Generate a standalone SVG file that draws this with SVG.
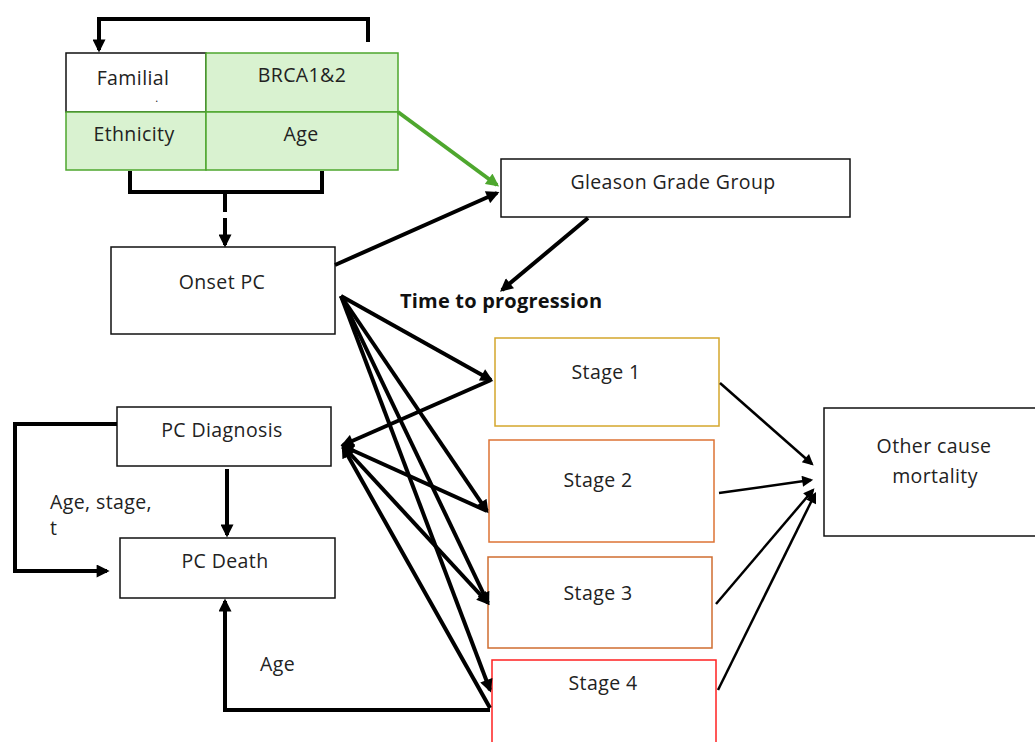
<svg xmlns="http://www.w3.org/2000/svg" width="1035" height="742" viewBox="0 0 1035 742">
<style>
text{font-family:"Open Sans","Liberation Sans",sans-serif;font-size:19.5px;letter-spacing:0.4px;fill:#222;}
.lbl{text-anchor:middle;}
.bold{font-weight:bold;font-size:20px;letter-spacing:0.2px;fill:#111;}
.box{fill:#fff;stroke:#111;stroke-width:1.5;}
.cell{fill:#d9f2d0;stroke:#4ea72e;stroke-width:1.5;}
.thick{fill:none;stroke:#000;stroke-width:4;}
.thin{fill:none;stroke:#000;stroke-width:2.5;}
.green{fill:none;stroke:#4ea72e;stroke-width:4;}
</style>
<defs>
<marker id="ah" viewBox="0 0 10 10" refX="8" refY="5" markerWidth="14" markerHeight="13" markerUnits="userSpaceOnUse" orient="auto-start-reverse">
<path d="M0,0 L10,5 L0,10 z" fill="#000"/>
</marker>
<marker id="ahs" viewBox="0 0 10 10" refX="8" refY="5" markerWidth="13" markerHeight="11" markerUnits="userSpaceOnUse" orient="auto">
<path d="M0,0 L10,5 L0,10 z" fill="#000"/>
</marker>
<marker id="ahg" viewBox="0 0 10 10" refX="8" refY="5" markerWidth="14" markerHeight="13" markerUnits="userSpaceOnUse" orient="auto">
<path d="M0,0 L10,5 L0,10 z" fill="#4ea72e"/>
</marker>
</defs>

<g id="risk-table">
<rect x="66" y="53" width="140" height="59" fill="#fff" stroke="#111" stroke-width="1.5"/>
<rect class="cell" x="206" y="53" width="192" height="59"/>
<rect class="cell" x="66" y="112" width="140" height="58"/>
<rect class="cell" x="206" y="112" width="192" height="58"/>
<text class="lbl" x="133" y="85">Familial</text>
<text class="lbl" x="157" y="102" style="font-size:11px">.</text>
<text class="lbl" x="302" y="82">BRCA1&amp;2</text>
<text class="lbl" x="134" y="141">Ethnicity</text>
<text class="lbl" x="301" y="141">Age</text>
</g>

<g id="gleason">
<rect class="box" x="501" y="159" width="349" height="58"/>
<text class="lbl" x="673" y="189">Gleason Grade Group</text>
</g>

<g id="onset">
<rect class="box" x="111" y="247" width="224" height="87"/>
<text class="lbl" x="222" y="289">Onset PC</text>
</g>

<g id="time-label">
<text class="bold" x="400" y="308">Time to progression</text>
</g>

<g id="stage1">
<rect x="495" y="338" width="224" height="88" fill="#fff" stroke="#d4a72c" stroke-width="1.5"/>
<text class="lbl" x="606" y="379">Stage 1</text>
</g>
<g id="stage2">
<rect x="489" y="440" width="225" height="102" fill="#fff" stroke="#dd7335" stroke-width="1.5"/>
<text class="lbl" x="598" y="487">Stage 2</text>
</g>
<g id="stage3">
<rect x="488" y="557" width="224" height="91" fill="#fff" stroke="#cf6d30" stroke-width="1.5"/>
<text class="lbl" x="598" y="600">Stage 3</text>
</g>
<g id="stage4">
<rect x="492" y="660" width="224" height="90" fill="#fff" stroke="#ff2020" stroke-width="1.5"/>
<text class="lbl" x="603" y="690">Stage 4</text>
</g>

<g id="other">
<rect class="box" x="824" y="408" width="220" height="128"/>
<text class="lbl" x="934" y="453">Other cause</text>
<text class="lbl" x="935" y="483">mortality</text>
</g>

<g id="diagnosis">
<rect class="box" x="117" y="407" width="214" height="59"/>
<text class="lbl" x="222" y="437">PC Diagnosis</text>
</g>

<g id="death">
<rect class="box" x="120" y="538" width="215" height="60"/>
<text class="lbl" x="225" y="568">PC Death</text>
</g>

<g id="labels">
<text x="50" y="509">Age, stage,</text>
<text x="50" y="535">t</text>
<text x="260" y="671">Age</text>
</g>

<g id="connectors">
<polyline class="thick" points="368,42 368,19 99,19 99,50" marker-end="url(#ah)"/>
<polyline class="thick" points="130,171 130,192 322,192 322,171"/>
<line class="thick" x1="225" y1="192" x2="225" y2="212"/>
<line class="thick" x1="225" y1="218" x2="225" y2="245" marker-end="url(#ah)"/>
<line class="green" x1="398" y1="112" x2="497" y2="185" marker-end="url(#ahg)"/>
<line class="thick" x1="335" y1="265" x2="497" y2="193" marker-end="url(#ah)"/>
<line class="thick" x1="588" y1="218" x2="502" y2="290" marker-end="url(#ah)"/>

<line class="thick" x1="341" y1="296" x2="491" y2="380" marker-end="url(#ah)"/>
<line class="thick" x1="341" y1="296" x2="487" y2="511" marker-end="url(#ah)"/>
<line class="thick" x1="341" y1="296" x2="488" y2="603" marker-end="url(#ah)"/>
<line class="thick" x1="341" y1="296" x2="490" y2="690" marker-end="url(#ah)"/>

<line class="thick" x1="491" y1="380" x2="343" y2="445" marker-end="url(#ah)"/>
<line class="thick" x1="487" y1="511" x2="343" y2="446" marker-end="url(#ah)"/>
<line class="thick" x1="343" y1="446" x2="488" y2="603" marker-start="url(#ah)" marker-end="url(#ah)"/>
<line class="thick" x1="490" y1="708" x2="343" y2="447" marker-end="url(#ah)"/>

<line class="thin" x1="720" y1="383" x2="812" y2="464" marker-end="url(#ahs)"/>
<line class="thin" x1="719" y1="493" x2="811" y2="480" marker-end="url(#ahs)"/>
<line class="thin" x1="716" y1="604" x2="813" y2="490" marker-end="url(#ahs)"/>
<line class="thin" x1="718" y1="690" x2="815" y2="494" marker-end="url(#ahs)"/>

<line class="thick" x1="227" y1="469" x2="227" y2="535" marker-end="url(#ah)"/>
<polyline class="thick" points="117,424 15,424 15,571 107,571" marker-end="url(#ah)"/>
<polyline class="thick" points="490,710 225,710 225,601" marker-end="url(#ah)"/>
</g>
</svg>
